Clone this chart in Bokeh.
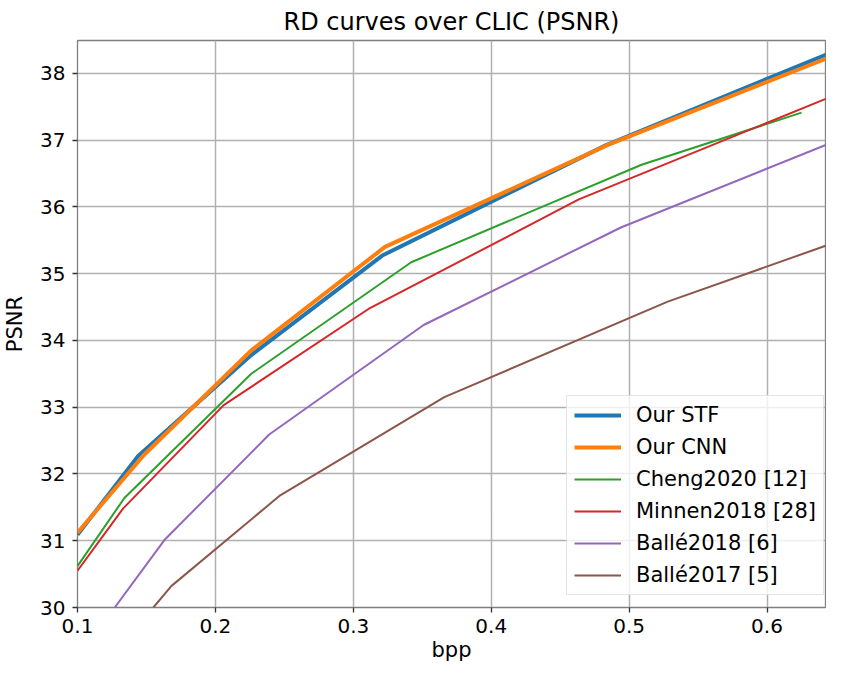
from bokeh.plotting import figure
from bokeh.models import Range1d, Legend, LegendItem, FixedTicker
from bokeh.embed import file_html
from bokeh.resources import INLINE

# ---- data ----
stf_x = [0.100, 0.144, 0.226, 0.321, 0.483, 0.643]
stf_y = [31.09, 32.27, 33.78, 35.27, 36.92, 38.28]
cnn_x = [0.100, 0.148, 0.226, 0.323, 0.485, 0.643]
cnn_y = [31.12, 32.28, 33.85, 35.40, 36.93, 38.22]
cheng_x = [0.100, 0.134, 0.226, 0.342, 0.509, 0.625]
cheng_y = [30.62, 31.64, 33.50, 35.17, 36.63, 37.41]
minnen_x = [0.100, 0.133, 0.206, 0.311, 0.4635, 0.643]
minnen_y = [30.55, 31.48, 33.03, 34.47, 36.11, 37.62]
balle18_x = [0.127, 0.163, 0.239, 0.351, 0.494, 0.643]
balle18_y = [30.00, 31.01, 32.59, 34.23, 35.69, 36.93]
balle17_x = [0.155, 0.168, 0.247, 0.366, 0.528, 0.643]
balle17_y = [30.00, 30.32, 31.68, 33.15, 34.58, 35.42]

labels = ["Our STF", "Our CNN", "Cheng2020 [12]", "Minnen2018 [28]", "Ballé2018 [6]", "Ballé2017 [5]"]
colors = ["#1f77b4", "#ff7f0e", "#2ca02c", "#d62728", "#9467bd", "#8c564b"]
widths = [4, 4, 2, 2, 2, 2]
series = [(stf_x, stf_y), (cnn_x, cnn_y), (cheng_x, cheng_y), (minnen_x, minnen_y),
          (balle18_x, balle18_y), (balle17_x, balle17_y)]

x_ticks = [0.1, 0.2, 0.3, 0.4, 0.5, 0.6]
y_ticks = [30, 31, 32, 33, 34, 35, 36, 37, 38]

FONT = "DejaVu Sans"

p = figure(width=826, height=664, output_backend="svg", toolbar_location=None,
           x_range=Range1d(0.1, 0.6424), y_range=Range1d(30, 38.49),
           title="RD curves over CLIC (PSNR)",
           min_border_left=72, min_border_right=1, min_border_top=34, min_border_bottom=0)

p.title.align = "center"
p.title.text_font = FONT
p.title.text_font_size = "24px"
p.title.text_font_style = "normal"
p.title.text_color = "black"

p.outline_line_color = "#7f7f7f"
p.outline_line_width = 1.3
p.background_fill_color = "white"

for ax in (p.xaxis[0], p.yaxis[0]):
    ax.axis_line_color = None
    ax.major_tick_line_color = "#333333"
    ax.major_tick_line_width = 1.3
    ax.major_tick_out = 5
    ax.major_tick_in = 0
    ax.minor_tick_line_color = None
    ax.major_label_text_font = FONT
    ax.major_label_text_font_size = "20px"
    ax.major_label_text_color = "black"
    ax.axis_label_text_font = FONT
    ax.axis_label_text_font_size = "21px"
    ax.axis_label_text_font_style = "normal"
    ax.axis_label_text_color = "black"
    ax.major_label_standoff = 7

p.xaxis[0].ticker = FixedTicker(ticks=x_ticks)
p.yaxis[0].ticker = FixedTicker(ticks=y_ticks)
p.xaxis[0].axis_label = "bpp"
p.yaxis[0].axis_label = "PSNR"
p.xaxis[0].major_label_standoff = 6
p.xaxis[0].axis_label_standoff = 2
p.yaxis[0].axis_label_standoff = 10

p.grid.grid_line_color = "#b0b0b0"
p.grid.grid_line_width = 1.5

items = []
for (xs, ys), lab, col, w in zip(series, labels, colors, widths):
    r = p.line(xs, ys, line_color=col, line_width=w)
    items.append(LegendItem(label=lab, renderers=[r]))

legend = Legend(items=items, location=(489, 12))
legend.label_text_font = FONT
legend.label_text_font_size = "21px"
legend.label_text_color = "black"
legend.glyph_width = 47
legend.glyph_height = 24
legend.label_height = 24
legend.label_standoff = 15
legend.spacing = 8
legend.padding = 7
legend.margin = 0
legend.border_line_color = "#cccccc"
legend.border_line_width = 1.3
legend.background_fill_alpha = 0.8
p.add_layout(legend, "center")

open("out.html", "w").write(file_html(p, INLINE))
